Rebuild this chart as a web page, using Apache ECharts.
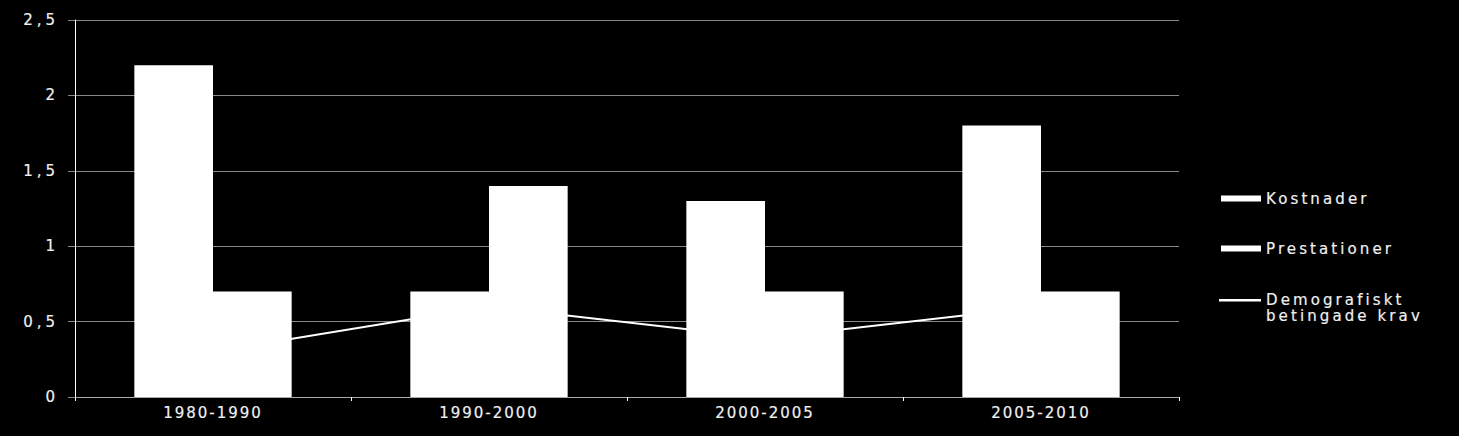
<!DOCTYPE html>
<html>
<head>
<meta charset="utf-8">
<script src="https://cdn.jsdelivr.net/npm/echarts@6/dist/echarts.min.js"></script>
<style>
html, body { margin: 0; padding: 0; background: #000; }
#chart { width: 1459px; height: 436px; }
#chart text { stroke: #f0f0f0; stroke-width: 0.18px; }
#chart text[text-anchor="end"] { letter-spacing: 4px; }
#chart text[text-anchor="middle"] { letter-spacing: 2px; }
#chart text[text-anchor="start"] { letter-spacing: 3.1px; }
</style>
</head>
<body>
<div id="chart"></div>
<script>
const categories = ['1980-1990', '1990-2000', '2000-2005', '2005-2010'];
const kostnader = [2.2, 0.7, 1.3, 1.8];
const prestationer = [0.7, 1.4, 0.7, 0.7];
const demografiskt = [0.30, 0.60, 0.39, 0.60];
const yTicks = [0, 0.5, 1, 1.5, 2, 2.5];
const seriesNames = ['Kostnader', 'Prestationer', 'Demografiskt\nbetingade krav'];

const chart = echarts.init(document.getElementById('chart'), null, { renderer: 'svg' });
const txt = '#f0f0f0';
const font = '"DejaVu Sans", Verdana, sans-serif';
chart.setOption({
  backgroundColor: '#000',
  animation: false,
  grid: { left: 75, right: 280, top: 20, bottom: 39 },
  legend: [
    {
      left: 1221, top: 191, orient: 'vertical', padding: 0, itemGap: 35,
      itemWidth: 40, itemHeight: 6,
      textStyle: { color: txt, fontFamily: font, fontSize: 15 },
      data: [
        { name: seriesNames[0], icon: 'rect' },
        { name: seriesNames[1], icon: 'rect' }
      ]
    },
    {
      left: 1219, top: 292, orient: 'vertical', padding: 0,
      itemWidth: 42, itemHeight: 18, symbolKeepAspect: false,
      textStyle: { color: txt, fontFamily: font, fontSize: 15, lineHeight: 16 },
      data: [ {
        name: seriesNames[2],
        icon: 'path://M0,0L42,0L42,2.4L0,2.4Z M0,17.9L0.01,17.9L0.01,18L0,18Z',
        itemStyle: { color: '#ffffff' }
      } ]
    }
  ],
  xAxis: {
    type: 'category',
    data: categories,
    axisLine: { show: true, lineStyle: { color: '#aaaaaa', width: 1 } },
    axisTick: { show: true, length: 4, lineStyle: { color: '#ffffff' } },
    axisLabel: { color: txt, fontFamily: font, fontSize: 15, margin: 8 }
  },
  yAxis: {
    type: 'value',
    min: yTicks[0], max: yTicks[yTicks.length - 1], interval: 0.5,
    axisLine: { show: true, lineStyle: { color: '#ffffff', width: 1 } },
    axisTick: { show: true, length: 7, lineStyle: { color: '#888888' } },
    splitLine: { show: true, lineStyle: { color: '#888888', width: 1 } },
    axisLabel: {
      color: txt, fontFamily: font, fontSize: 15, margin: 16,
      formatter: v => String(v).replace('.', ',')
    }
  },
  series: [
    {
      name: seriesNames[0], type: 'bar', data: kostnader,
      barGap: '0%', barCategoryGap: '43%',
      itemStyle: { color: '#ffffff' }
    },
    {
      name: seriesNames[1], type: 'bar', data: prestationer,
      barGap: '0%', barCategoryGap: '43%',
      itemStyle: { color: '#ffffff' }
    },
    {
      name: seriesNames[2], type: 'line', data: demografiskt,
      symbol: 'none', z: 1,
      lineStyle: { color: '#ffffff', width: 2 },
      itemStyle: { color: '#ffffff' }
    }
  ]
});
</script>
</body>
</html>
